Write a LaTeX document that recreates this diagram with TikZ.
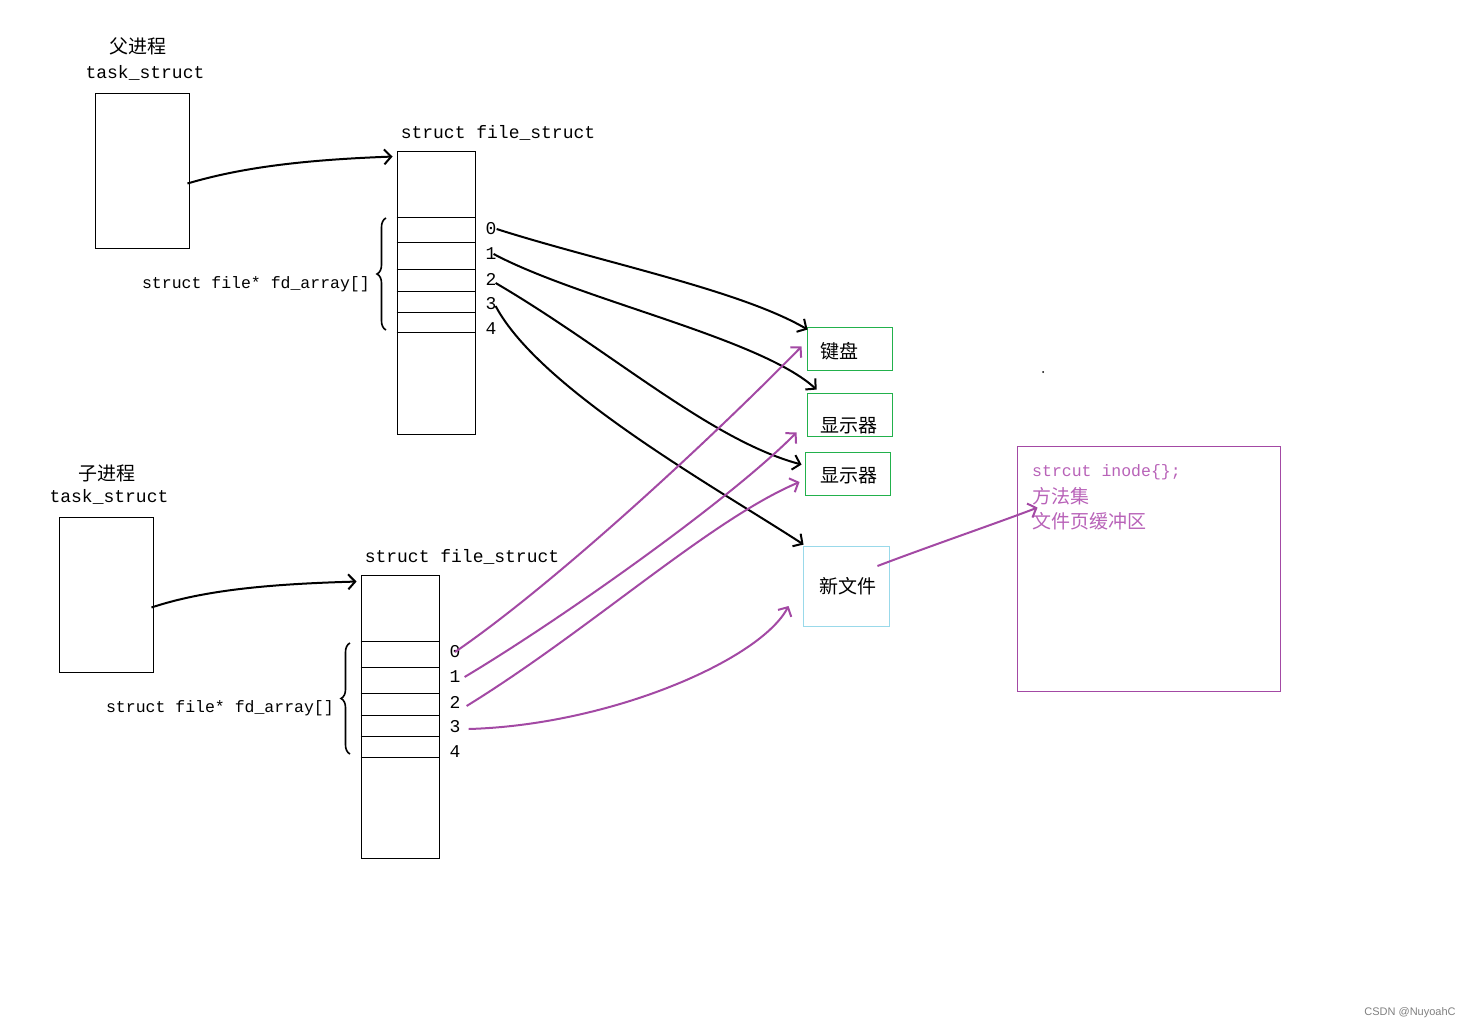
\documentclass[tikz,border=0pt]{standalone}
\usepackage{fontspec}
\setmonofont{Liberation Mono}
\newfontfamily\cjk{Noto Sans CJK SC}
\newfontfamily\wmark{Liberation Sans}
\usetikzlibrary{arrows.meta,decorations.pathreplacing}
\definecolor{pgreen}{HTML}{22B14C}
\definecolor{pblue}{HTML}{99D9EA}
\definecolor{ppurple}{HTML}{A349A4}
\definecolor{ptext}{HTML}{B862B8}

\begin{document}
\begin{tikzpicture}
[
    x=1pt, y=-1pt,
    mono/.style={font=\ttfamily\fontsize{18}{20}\selectfont, inner sep=0pt},
    monosmall/.style={font=\ttfamily\fontsize{16.5}{19}\selectfont, inner sep=0pt},
    zh/.style={font=\cjk\fontsize{19}{21}\selectfont, inner sep=0pt},
    box/.style={draw, line width=0.9pt, inner sep=0pt},
    gbox/.style={box, draw=pgreen},
    hand/.style={line width=2pt, -{Straight Barb[length=7pt,width=15pt]}},
    phand/.style={hand, draw=ppurple},
    curly/.style={line width=1.6pt, decorate, decoration={brace, amplitude=9pt}},
]
\useasboundingbox (0,0) rectangle (1475,1030);

% parent process
\node [zh] (ptitle) at (138,46) {父进程};
\node [mono] (pname) at (145,73) {task\_struct};
\node [box, minimum width=94pt, minimum height=155pt] (ptask) at (142,170.5) {};
\node [mono] (pfslabel) at (498,133) {struct file\_struct};
\node [box, minimum width=78pt, minimum height=283pt] (pfs) at (436,292.5) {};
\foreach \y in {217,242,269,291,312,332}
    \draw [line width=0.9pt] (pfs.west |- 0,\y) -- (pfs.east |- 0,\y);
\foreach \i/\y in {0/229,1/254,2/279,3/304,4/329}
    \node [mono] (p\i) at (491,\y) {\i};
\draw [curly] (386,330) -- (386,218) coordinate (pbrace);
\node [monosmall, anchor=east] (parray) at (370,284) {struct file* fd\_array[]};

% child process
\node [zh] (ctitle) at (107,473) {子进程};
\node [mono] (cname) at (109,497) {task\_struct};
\node [box, minimum width=94pt, minimum height=155pt] (ctask) at (106,594.5) {};
\node [mono] (cfslabel) at (462,557) {struct file\_struct};
\node [box, minimum width=78pt, minimum height=283pt] (cfs) at (400,716.5) {};
\foreach \y in {641,667,693,715,736,757}
    \draw [line width=0.9pt] (cfs.west |- 0,\y) -- (cfs.east |- 0,\y);
\foreach \i/\y in {0/652,1/677,2/702,3/727,4/752}
    \node [mono] (c\i) at (455,\y) {\i};
\draw [curly] (350,754) -- (350,643) coordinate (cbrace);
\node [monosmall, anchor=east] (carray) at (334,708) {struct file* fd\_array[]};

% devices and files
\node [gbox, minimum width=85pt, minimum height=43pt] (kbd) at (849.5,348.5) {};
\node [zh] (kbdt) at (839,351) {键盘};
\node [gbox, minimum width=85pt, minimum height=43pt] (scr1) at (849.5,414.5) {};
\node [zh] (scr1t) at (849,426) {显示器};
\node [gbox, minimum width=85pt, minimum height=43pt] (scr2) at (847.5,473.5) {};
\node [zh] (scr2t) at (849,476) {显示器};
\node [box, draw=pblue, minimum width=86pt, minimum height=80pt] (newf) at (846,586) {};
\node [zh] (newft) at (848,586) {新文件};
\node [box, draw=ppurple, minimum width=263pt, minimum height=245pt] (inode) at (1148.5,568.5) {};
\node [monosmall, text=ptext, anchor=west] (inode1) at (1032,472) {strcut inode\{\};};
\node [zh, text=ptext, anchor=west] (inode2) at (1032,496) {方法集};
\node [zh, text=ptext, anchor=west] (inode3) at (1032,521) {文件页缓冲区};
\fill (1043,372) circle (1);

% pointers
\draw [hand] ([shift={(-2,13)}]ptask.east) .. controls (240,168) and (300,160) .. ([shift={(-4,6)}]pfs.north west);
\draw [hand] ([shift={(-2,13)}]ctask.east) .. controls (204,590) and (270,584) .. ([shift={(-4,7)}]cfs.north west);

\draw [hand] (p0.east) .. controls (600,262) and (740,290) .. ([shift={(1,3)}]kbd.north west);
\draw [hand] ([xshift=-3pt]p1.east) .. controls (580,300) and (760,338) .. ([shift={(10,-3)}]scr1.north west);
\draw [hand] ([shift={(-1,4)}]p2.east) .. controls (610,350) and (710,440) .. ([shift={(-3,13)}]scr2.north west);
\draw [hand] ([shift={(-1,2)}]p3.east) .. controls (540,390) and (720,490) .. ([shift={(1,-1)}]newf.north west);

\draw [phand] (c0.center) .. controls (560,580) and (720,430) .. ([shift={(-5,-2)}]kbd.west);
\draw [phand] ([xshift=4pt]c1.east) .. controls (560,620) and (730,500) .. ([shift={(-10,-4)}]scr1.south west);
\draw [phand] ([shift={(6,4)}]c2.east) .. controls (590,630) and (710,520) .. ([shift={(-5,8.5)}]scr2.west);
\draw [phand] ([shift={(8,2)}]c3.east) .. controls (610,725) and (760,660) .. ([shift={(-14,20)}]newf.west);
\draw [phand] ([shift={(-12,-20)}]newf.east) .. controls (930,546) and (1000,522) .. ([shift={(21,62)}]inode.north west);

\node [font=\wmark\fontsize{11}{13}\selectfont, text=gray, inner sep=0pt] (mark) at (1410,1013) {CSDN @NuyoahC};
\end{tikzpicture}
\end{document}
